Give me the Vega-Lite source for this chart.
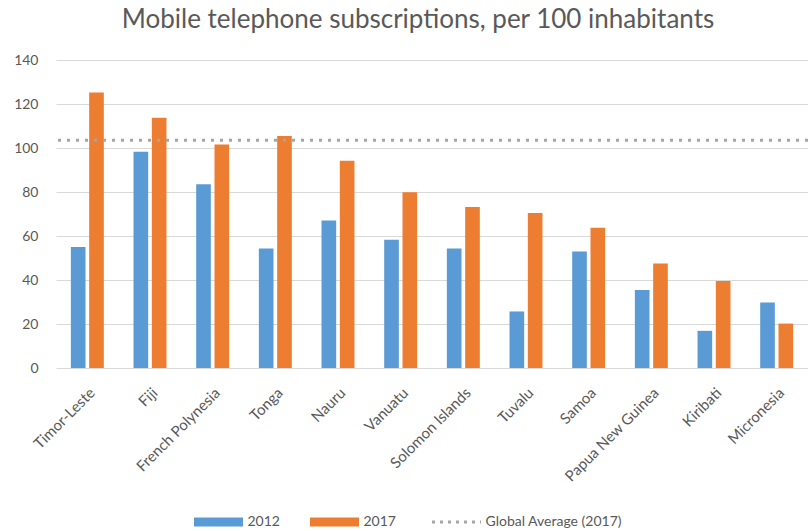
{
  "$schema": "https://vega.github.io/schema/vega-lite/v6.json",
  "autosize": "none",
  "width": 752,
  "height": 308,
  "padding": {"left": 56, "top": 60, "right": 0, "bottom": 163},
  "background": "white",
  "config": {
    "font": "Lato",
    "view": {"stroke": null},
    "axis": {"labelFont": "Lato", "labelColor": "#595959", "labelFontSize": 14, "domain": false, "ticks": false, "title": null},
    "legend": {"labelFont": "Lato"}
  },
  "title": {
    "text": "Mobile telephone subscriptions, per 100 inhabitants",
    "font": "Lato",
    "fontSize": 26,
    "fontWeight": "normal",
    "color": "#595959",
    "anchor": "middle",
    "dx": -14,
    "offset": 20
  },
  "layer": [
    {
      "data": {
        "values": [
          {"country": "Timor-Leste", "year": "2012", "value": 55},
          {"country": "Timor-Leste", "year": "2017", "value": 125.2},
          {"country": "Fiji", "year": "2012", "value": 98.3},
          {"country": "Fiji", "year": "2017", "value": 113.7},
          {"country": "French Polynesia", "year": "2012", "value": 83.5},
          {"country": "French Polynesia", "year": "2017", "value": 101.6},
          {"country": "Tonga", "year": "2012", "value": 54.3},
          {"country": "Tonga", "year": "2017", "value": 105.5},
          {"country": "Nauru", "year": "2012", "value": 67.1},
          {"country": "Nauru", "year": "2017", "value": 94.2},
          {"country": "Vanuatu", "year": "2012", "value": 58.3},
          {"country": "Vanuatu", "year": "2017", "value": 79.9},
          {"country": "Solomon Islands", "year": "2012", "value": 54.3},
          {"country": "Solomon Islands", "year": "2017", "value": 73.2},
          {"country": "Tuvalu", "year": "2012", "value": 25.7},
          {"country": "Tuvalu", "year": "2017", "value": 70.5},
          {"country": "Samoa", "year": "2012", "value": 52.9},
          {"country": "Samoa", "year": "2017", "value": 63.7},
          {"country": "Papua New Guinea", "year": "2012", "value": 35.4},
          {"country": "Papua New Guinea", "year": "2017", "value": 47.5},
          {"country": "Kiribati", "year": "2012", "value": 16.9},
          {"country": "Kiribati", "year": "2017", "value": 39.5},
          {"country": "Micronesia", "year": "2012", "value": 29.8},
          {"country": "Micronesia", "year": "2017", "value": 20.2}
        ]
      },
      "mark": {"type": "bar"},
      "encoding": {
        "x": {
          "field": "country",
          "type": "nominal",
          "sort": null,
          "scale": {"paddingInner": 0.474, "paddingOuter": 0.237},
          "axis": {"labelAngle": -45, "labelPadding": 17, "labelFontSize": 15, "grid": false}
        },
        "xOffset": {
          "field": "year",
          "type": "nominal",
          "scale": {"paddingInner": 0.2, "paddingOuter": 0}
        },
        "y": {
          "field": "value",
          "type": "quantitative",
          "scale": {"domain": [0, 140], "nice": false},
          "axis": {"values": [0, 20, 40, 60, 80, 100, 120, 140], "labelPadding": 18, "gridColor": "#D9D9D9", "gridWidth": 1}
        },
        "color": {
          "field": "year",
          "type": "nominal",
          "scale": {"domain": ["2012", "2017", "Global Average (2017)"], "range": ["#5B9BD5", "#ED7D31", "#A5A5A5"]},
          "legend": {
            "orient": "none",
            "legendX": 138,
            "legendY": 455,
            "direction": "horizontal",
            "title": null,
            "symbolType": "M-1,-0.18H1V0.18H-1Z",
            "symbolSize": 2401,
            "symbolOffset": 17.5,
            "labelFontSize": 14,
            "labelColor": "#595959",
            "labelOffset": 22,
            "columnPadding": 30,
            "encode": {
              "symbols": {
                "update": {
                  "size": {"value": 2401},
                  "shape": {"signal": "datum.value === 'Global Average (2017)' ? 'M-1,0H1' : 'M-1,-0.18H1V0.18H-1Z'"},
                  "fill": {"signal": "datum.value === 'Global Average (2017)' ? 'transparent' : (datum.value === '2012' ? '#5B9BD5' : '#ED7D31')"},
                  "stroke": {"signal": "datum.value === 'Global Average (2017)' ? '#A5A5A5' : 'transparent'"},
                  "strokeWidth": {"signal": "datum.value === 'Global Average (2017)' ? 3 : 0"},
                  "strokeDash": {"signal": "datum.value === 'Global Average (2017)' ? [3, 5] : [1, 0]"},
                  "opacity": {"value": 1}
                }
              }
            }
          }
        }
      }
    },
    {
      "data": {"values": [{"series": "Global Average (2017)", "value": 103.5}]},
      "mark": {"type": "rule", "stroke": "#A5A5A5", "strokeWidth": 3, "strokeDash": [3, 6]},
      "encoding": {
        "y": {"field": "value", "type": "quantitative"}
      }
    }
  ]
}
